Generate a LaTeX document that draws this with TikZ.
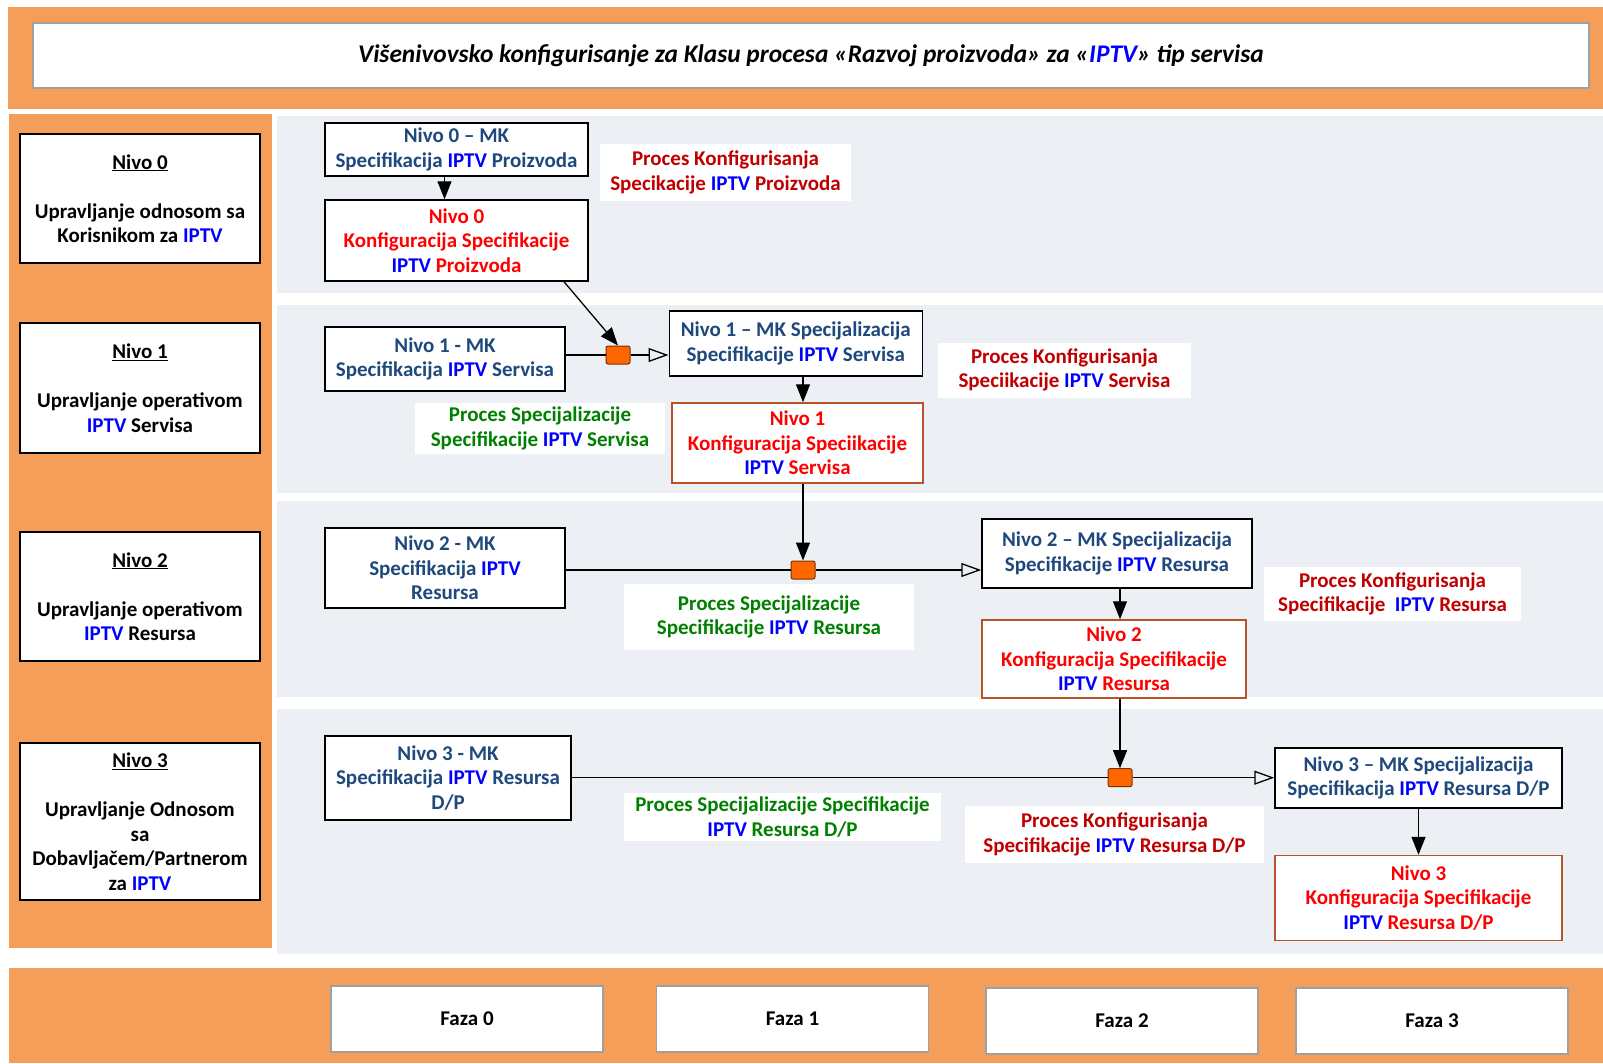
\documentclass[tikz,border=0pt]{standalone}
\usepackage{fontspec}
\setmainfont{Carlito}
\usetikzlibrary{arrows.meta}
\definecolor{orangebg}{RGB}{245,158,90}
\definecolor{rowbg}{RGB}{236,240,245}
\definecolor{mkblue}{RGB}{31,73,125}
\definecolor{iptvblue}{RGB}{0,0,255}
\definecolor{konfred}{RGB}{255,0,0}
\definecolor{labred}{RGB}{192,0,0}
\definecolor{labgreen}{RGB}{0,128,0}
\definecolor{konfborder}{RGB}{180,84,40}
\definecolor{juncfill}{RGB}{255,102,0}
\definecolor{juncdraw}{RGB}{120,50,0}
\definecolor{boxgray}{RGB}{160,160,160}
\newcommand\iptv{\textcolor{iptvblue}{IPTV}}
\begin{document}
\begin{tikzpicture}[x=1pt,y=-1pt,
  txt/.style={font={\fontsize{21}{24.5}\selectfont\bfseries}, align=center, inner sep=0pt},
  leftbox/.style={txt, draw=black, line width=1.6pt, fill=white, text=black, minimum width=240pt},
  mkbox/.style={txt, draw=black, line width=1.5pt, fill=white, text=mkblue},
  kfbox/.style={txt, draw=konfborder, line width=1.5pt, fill=white, text=konfred},
  lblred/.style={txt, fill=white, text=labred},
  lblgreen/.style={txt, fill=white, text=labgreen},
  fazabox/.style={txt, draw=boxgray, line width=1.5pt, fill=white, text=black, minimum width=272pt, minimum height=66pt},
  junc/.style={rectangle, rounded corners=2pt, fill=juncfill, draw=juncdraw, line width=1pt, minimum width=24pt, minimum height=18pt, inner sep=0pt},
  conn/.style={line width=1.3pt, draw=black},
  arr/.style={conn, -{Triangle[length=18pt,width=14pt]}},
  oarr/.style={conn, -{Triangle[open,length=20pt,width=14pt,line width=1.3pt]}}
]
\useasboundingbox (0,0) rectangle (1603,1063);
\fill[white] (0,0) rectangle (1603,1063);
% background bands
\fill[orangebg] (8,7) rectangle (1603,109);
\fill[orangebg] (9,114) rectangle (272,948);
\fill[orangebg] (9,968) rectangle (1603,1063);
\fill[rowbg] (277,116) rectangle (1603,293);
\fill[rowbg] (277,305) rectangle (1603,493);
\fill[rowbg] (277,501) rectangle (1603,697);
\fill[rowbg] (277,709) rectangle (1603,954);

% title
\node[draw=boxgray, line width=1.5pt, fill=white, minimum width=1556pt, minimum height=65pt, inner sep=0pt,
  font={\fontsize{25.4}{28}\selectfont\bfseries\itshape}] (title) at (811,55.5)
  {Višenivovsko konfigurisanje za Klasu procesa «Razvoj proizvoda» za «\iptv» tip servisa};

% left level boxes
\node[leftbox, minimum height=129pt] (L0) at (140,198.5) {\underline{Nivo 0}\\[24.5pt]Upravljanje odnosom sa\\Korisnikom za \iptv};
\node[leftbox, minimum height=130pt] (L1) at (140,388) {\underline{Nivo 1}\\[24.5pt]Upravljanje operativom\\\iptv{} Servisa};
\node[leftbox, minimum height=129pt] (L2) at (140,596.5) {\underline{Nivo 2}\\[24.5pt]Upravljanje operativom\\\iptv{} Resursa};
\node[leftbox, minimum height=157pt] (L3) at (140,821.5) {\underline{Nivo 3}\\[24.5pt]Upravljanje Odnosom\\sa\\Dobavljačem/Partnerom\\za \iptv};

% row 0
\node[mkbox, minimum width=263pt, minimum height=53pt] (MK0) at (456.5,149.5) {Nivo 0 – MK\\Specifikacija \iptv{} Proizvoda};
\node[kfbox, draw=black, minimum width=263pt, minimum height=81pt] (K0) at (456.5,240.5) {Nivo 0\\Konfiguracija Specifikacije\\\iptv{} Proizvoda};
\node[lblred, minimum width=251pt, minimum height=57pt] (P0) at (725.5,172.5) {Proces Konfigurisanja\\Specikacije \iptv{} Proizvoda};

% row 1
\node[mkbox, minimum width=240pt, minimum height=64pt] (MK1L) at (445,359) {Nivo 1 - MK\\Specifikacija \iptv{} Servisa};
\node[junc] (J1) at (618,355) {};
\node[mkbox, minimum width=253pt, minimum height=65pt] (MK1S) at (795.75,343.5) {Nivo 1 – MK Specijalizacija\\Specifikacije \iptv{} Servisa};
\node[kfbox, minimum width=251pt, minimum height=80pt] (K1) at (797.5,443) {Nivo 1\\Konfiguracija Speciikacije\\\iptv{} Servisa};
\node[lblgreen, minimum width=250pt, minimum height=51pt] (S1) at (540,428.5) {Proces Specijalizacije\\Specifikacije \iptv{} Servisa};
\node[lblred, minimum width=253pt, minimum height=55pt] (P1) at (1064.5,370) {Proces Konfigurisanja\\Speciikacije \iptv{} Servisa};

% row 2
\node[mkbox, minimum width=240pt, minimum height=80pt] (MK2L) at (445,568) {Nivo 2 - MK\\Specifikacija \iptv\\Resursa};
\node[junc] (J2) at (803,570) {};
\node[mkbox, minimum width=270pt, minimum height=69pt] (MK2S) at (1117,553.5) {Nivo 2 – MK Specijalizacija\\Specifikacije \iptv{} Resursa};
\node[kfbox, minimum width=264pt, minimum height=78pt] (K2) at (1114,659) {Nivo 2\\Konfiguracija Specifikacije\\\iptv{} Resursa};
\node[lblgreen, minimum width=290pt, minimum height=66pt] (S2) at (769,617) {Proces Specijalizacije\\Specifikacije \iptv{} Resursa};
\node[lblred, minimum width=257pt, minimum height=54pt] (P2) at (1392.5,594) {Proces Konfigurisanja\\Specifikacije \ \iptv{} Resursa};

% row 3
\node[mkbox, minimum width=246pt, minimum height=84pt] (MK3L) at (448,778) {Nivo 3 - MK\\Specifikacija \iptv{} Resursa\\D/P};
\node[junc] (J3) at (1120,777.7) {};
\node[mkbox, minimum width=287pt, minimum height=60pt] (MK3S) at (1418.5,778) {Nivo 3 – MK Specijalizacija\\Specifikacija \iptv{} Resursa D/P};
\node[kfbox, minimum width=287pt, minimum height=85pt] (K3) at (1418.5,898) {Nivo 3\\Konfiguracija Specifikacije\\\iptv{} Resursa D/P};
\node[lblgreen, minimum width=317pt, minimum height=48pt] (S3) at (782.5,817) {Proces Specijalizacije Specifikacije\\\iptv{} Resursa D/P};
\node[lblred, minimum width=299pt, minimum height=57pt] (P3) at (1114.5,834.5) {Proces Konfigurisanja\\Specifikacije \iptv{} Resursa D/P};

% phases
\node[fazabox] (F0) at (467,1019) {Faza 0};
\node[fazabox] (F1) at (792.5,1019) {Faza 1};
\node[fazabox] (F2) at (1122,1021) {Faza 2};
\node[fazabox] (F3) at (1432,1021) {Faza 3};

% connectors
\draw[arr] ([xshift=-12pt]MK0.south) -- ([xshift=-12pt]K0.north);
\draw[arr] ([xshift=107.5pt]K0.south) -- (J1.north);
\draw[conn] (J1.west -| MK1L.east) -- (J1.west);
\draw[oarr] (J1.east) -- (J1.east -| MK1S.west);
\draw[arr] (MK1S.south -| J2) -- (K1.north -| J2);
\draw[arr] (K1.south -| J2) -- (J2.north);
\draw[conn] (J2.west -| MK2L.east) -- (J2.west);
\draw[oarr] (J2.east) -- (J2.east -| MK2S.west);
\draw[arr] (MK2S.south -| J3) -- (K2.north -| J3);
\draw[arr] (K2.south -| J3) -- (J3.north);
\draw[conn] (J3.west -| MK3L.east) -- (J3.west);
\draw[oarr] (J3.east) -- (J3.east -| MK3S.west);
\draw[arr] (MK3S.south) -- (K3.north);
\end{tikzpicture}
\end{document}
